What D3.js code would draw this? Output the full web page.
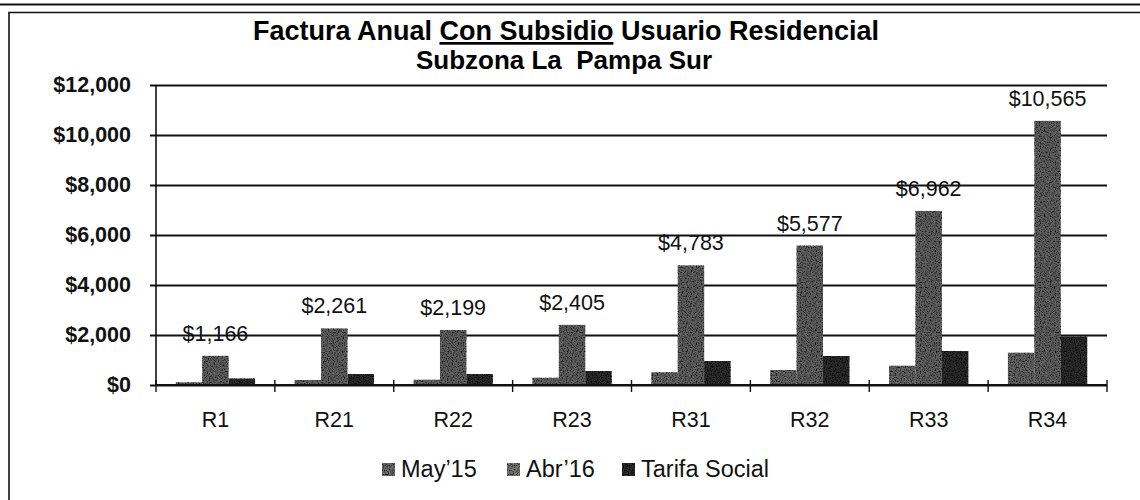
<!DOCTYPE html>
<html>
<head>
<meta charset="utf-8">
<script src="https://cdn.jsdelivr.net/npm/d3@7"></script>
<style>
  body { margin: 0; background: #fff; }
  svg { display: block; font-family: Arial, "Liberation Sans", sans-serif; }
</style>
</head>
<body>
<script>
const width = 1140,
      height = 500;

// data
const categories = ['R1', 'R21', 'R22', 'R23', 'R31', 'R32', 'R33', 'R34'];
const seriesNames = ["May\u201915", "Abr\u201916", 'Tarifa Social'];
const may15 = [110, 200, 210, 290, 510, 600, 770, 1290];
const abr16 = [1166, 2261, 2199, 2405, 4783, 5577, 6962, 10565];
const tarifaSocial = [260, 440, 440, 560, 960, 1160, 1360, 1940];
const yTicks = [0, 2000, 4000, 6000, 8000, 10000, 12000];

const series = [may15, abr16, tarifaSocial];
const colors = ['#686868', '#646464', '#2e2e2e'];
const legendColors = ['#6e6e6e', '#7a7a7a', '#2e2e2e'];

const svg = d3.select('body').append('svg')
    .attr('width', width)
    .attr('height', height);

// scanned look: dark speckles inside the bars
const grain = svg.append('defs').append('filter')
    .attr('id', 'grain')
    .attr('x', 0).attr('y', 0).attr('width', 1).attr('height', 1);
grain.append('feTurbulence')
    .attr('type', 'fractalNoise').attr('baseFrequency', 0.8)
    .attr('numOctaves', 1).attr('seed', 3).attr('result', 'noise');
grain.append('feColorMatrix')
    .attr('in', 'noise').attr('type', 'matrix')
    .attr('values', '0 0 0 0 0  0 0 0 0 0  0 0 0 0 0  3 0 0 0 -1.2')
    .attr('result', 'dots');
grain.append('feComposite')
    .attr('in', 'dots').attr('in2', 'SourceGraphic')
    .attr('operator', 'in').attr('result', 'clipped');
const merge = grain.append('feMerge');
merge.append('feMergeNode').attr('in', 'SourceGraphic');
merge.append('feMergeNode').attr('in', 'clipped');

// frame of the scanned chart
svg.append('line').attr('x1', 0).attr('x2', width).attr('y1', 4.5).attr('y2', 4.5)
    .attr('stroke', '#111').attr('stroke-width', 2);
svg.append('path').attr('d', `M9,500V12.5H${width}`)
    .attr('fill', 'none').attr('stroke', '#111').attr('stroke-width', 1.6);

// title
const title = svg.append('text')
    .attr('x', 566).attr('y', 40)
    .attr('text-anchor', 'middle')
    .attr('font-size', 27).attr('font-weight', 'bold');
title.append('tspan').text('Factura Anual ');
title.append('tspan').attr('text-decoration', 'underline').text('Con Subsidio');
title.append('tspan').text(' Usuario Residencial');

svg.append('text')
    .attr('x', 564).attr('y', 69)
    .attr('text-anchor', 'middle')
    .attr('font-size', 26).attr('font-weight', 'bold')
    .style('white-space', 'pre')
    .text('Subzona La  Pampa Sur');

const x = d3.scaleBand()
    .domain(categories)
    .range([156, 1107])
    .paddingInner(1 / 3)
    .paddingOuter(1 / 6);

const x1 = d3.scaleBand()
    .domain(d3.range(series.length))
    .range([0, x.bandwidth()]);

const y = d3.scaleLinear()
    .domain([0, 12000])
    .range([385, 85]);

const money = d3.format('$,');

// gridlines + y axis
const yAxis = svg.append('g')
    .attr('transform', 'translate(156,0)')
    .call(d3.axisLeft(y).tickValues(yTicks).tickFormat(money)
        .tickSize(6).tickSizeInner(-(1107 - 156)).tickPadding(25));
yAxis.select('.domain').remove();
yAxis.selectAll('.tick line')
    .attr('x1', -6)
    .attr('stroke', '#111').attr('stroke-width', 1.8);
yAxis.selectAll('.tick text')
    .attr('font-size', 21.5).attr('font-weight', 'bold')
    .attr('font-family', 'Arial, "Liberation Sans", sans-serif')
    .attr('fill', '#111');

svg.append('line')
    .attr('x1', 156).attr('x2', 156).attr('y1', y(12000)).attr('y2', y(0))
    .attr('stroke', '#111').attr('stroke-width', 1.6);

// bars
const groups = svg.append('g').selectAll('g')
    .data(categories)
    .join('g')
    .attr('transform', d => `translate(${x(d)},0)`);

groups.selectAll('rect')
    .data((d, i) => series.map((s, k) => ({ k, v: s[i] })))
    .join('rect')
    .attr('x', d => x1(d.k))
    .attr('width', x1.bandwidth())
    .attr('y', d => y(d.v))
    .attr('height', d => y(0) - y(d.v))
    .attr('fill', d => colors[d.k])
    .attr('filter', 'url(#grain)');

// x axis line and boundary ticks
svg.append('line')
    .attr('x1', 156).attr('x2', 1107).attr('y1', y(0)).attr('y2', y(0))
    .attr('stroke', '#111').attr('stroke-width', 1.8);
svg.append('g').selectAll('line')
    .data(d3.range(categories.length + 1))
    .join('line')
    .attr('x1', i => 156 + i * x.step())
    .attr('x2', i => 156 + i * x.step())
    .attr('y1', y(0) - 5).attr('y2', y(0) + 7)
    .attr('stroke', '#111').attr('stroke-width', 1.4);

// category labels
svg.append('g').selectAll('text')
    .data(categories)
    .join('text')
    .attr('x', d => x(d) + x.bandwidth() / 2)
    .attr('y', 427)
    .attr('text-anchor', 'middle')
    .attr('font-size', 21.5)
    .attr('fill', '#111')
    .text(d => d);

// data labels above Abr'16 bars
svg.append('g').selectAll('text')
    .data(categories)
    .join('text')
    .attr('x', (d, i) => x(d) + x1(1) + x1.bandwidth() / 2)
    .attr('y', (d, i) => y(abr16[i]) - 15)
    .attr('text-anchor', 'middle')
    .attr('font-size', 21.5)
    .attr('fill', '#111')
    .text((d, i) => money(abr16[i]));

// legend
const legendX = [382, 507, 622];
const legend = svg.append('g').selectAll('g')
    .data(seriesNames)
    .join('g')
    .attr('transform', (d, i) => `translate(${legendX[i]},463)`);
legend.append('rect')
    .attr('width', 13).attr('height', 13)
    .attr('fill', (d, i) => legendColors[i])
    .attr('filter', 'url(#grain)');
legend.append('text')
    .attr('x', 19).attr('y', 14)
    .attr('font-size', 23.5)
    .attr('fill', '#111')
    .text(d => d);
</script>
</body>
</html>
